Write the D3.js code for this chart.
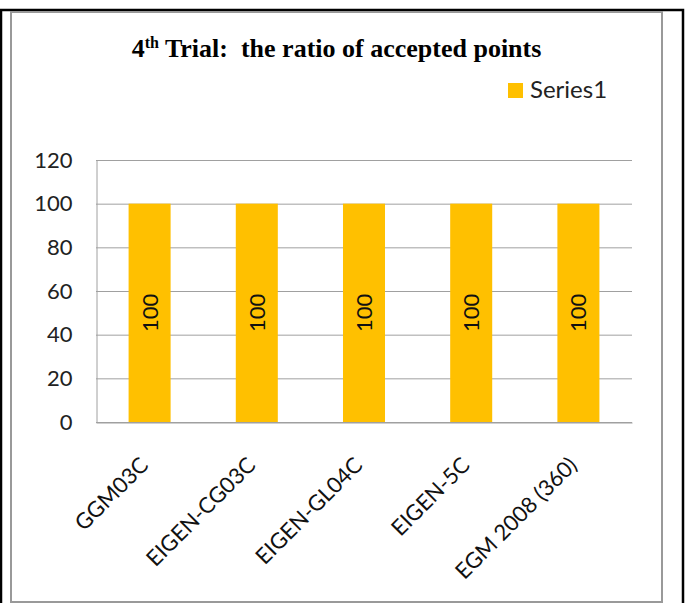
<!DOCTYPE html>
<html>
<head>
<meta charset="utf-8">
<script src="https://cdn.jsdelivr.net/npm/d3@7/dist/d3.min.js"></script>
<style>
  html, body { margin: 0; padding: 0; background: #fff; }
  svg { display: block; }
</style>
</head>
<body>
<svg id="chart" width="688" height="603"></svg>
<script>
const categories = ["GGM03C", "EIGEN-CG03C", "EIGEN-GL04C", "EIGEN-5C", "EGM 2008 (360)"];
const series1 = [100, 100, 100, 100, 100];
const yTicks = [0, 20, 40, 60, 80, 100, 120];
const seriesName = "Series1";

const svg = d3.select("#chart");
const barColor = "#FFC000";
const gridColor = "#a0a0a0";
const sans = "Lato, 'Open Sans', sans-serif";

// outer black frame
svg.append("path")
  .attr("d", "M1,603 L1,10 L683,10 L683,603")
  .attr("fill", "none").attr("stroke", "#000").attr("stroke-width", 2.5);
// inner gray chart frame
svg.append("rect")
  .attr("x", 11).attr("y", 12).attr("width", 651).attr("height", 590)
  .attr("fill", "#fff").attr("stroke", "#999").attr("stroke-width", 2);

const x = d3.scaleBand().domain(categories).range([96, 632])
  .paddingInner(0.608).paddingOuter(0.304);
const y = d3.scaleLinear().domain([0, 120]).range([422, 160]);

// gridlines
svg.append("g").selectAll("line").data(yTicks).join("line")
  .attr("x1", 96).attr("x2", 632)
  .attr("y1", d => y(d) + 0.5).attr("y2", d => y(d) + 0.5)
  .attr("stroke", gridColor).attr("stroke-width", 1);

// y axis
const yAxis = d3.axisLeft(y).tickValues(yTicks).tickSize(0).tickPadding(24);
const gy = svg.append("g").attr("transform", "translate(96.5,0)").call(yAxis);
gy.select(".domain").attr("stroke", gridColor);
gy.selectAll("text").attr("font-family", sans).attr("font-size", 22).attr("fill", "#222");

// bars
svg.append("g").selectAll("rect").data(series1).join("rect")
  .attr("x", (d, i) => x(categories[i]))
  .attr("width", x.bandwidth())
  .attr("y", d => y(d))
  .attr("height", d => y(0) - y(d))
  .attr("fill", barColor);

// bar value labels
svg.append("g").selectAll("text").data(series1).join("text")
  .attr("transform", (d, i) => `translate(${x(categories[i]) + x.bandwidth() / 2 + 8},${(y(d) + y(0)) / 2}) rotate(-90)`)
  .attr("text-anchor", "middle")
  .attr("font-family", sans).attr("font-size", 22).attr("fill", "#111")
  .text(d => d);

// x axis
const xAxis = d3.axisBottom(x).tickSize(0).tickPadding(0);
const gx = svg.append("g").attr("transform", "translate(0,422.5)").call(xAxis);
gx.select(".domain").attr("stroke", gridColor);
gx.selectAll("text")
  .attr("font-family", sans).attr("font-size", 22).attr("fill", "#111")
  .attr("text-anchor", "end")
  .attr("dy", 0).attr("y", 0)
  .attr("transform", "translate(0,44) rotate(-45)");

// title
const title = svg.append("text")
  .attr("x", 336.5).attr("y", 57)
  .attr("text-anchor", "middle")
  .attr("font-family", "'Liberation Serif', 'Times New Roman', serif")
  .attr("font-weight", "bold").attr("font-size", 26).attr("fill", "#000");
title.append("tspan").text("4");
title.append("tspan").attr("font-size", 16).attr("dy", -9).text("th");
title.append("tspan").attr("dy", 9).text(" Trial:\u00a0 the ratio of accepted points");

// legend
svg.append("rect").attr("x", 508).attr("y", 83).attr("width", 15).attr("height", 15).attr("fill", barColor);
svg.append("text").attr("x", 530).attr("y", 98)
  .attr("font-family", sans).attr("font-size", 24).attr("fill", "#222")
  .text(seriesName);
</script>
</body>
</html>
